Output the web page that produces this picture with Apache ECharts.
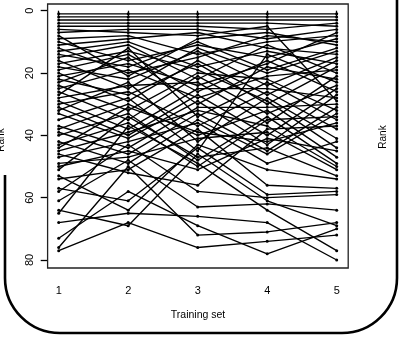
<!DOCTYPE html>
<html>
<head>
<meta charset="utf-8">
<script src="https://cdn.jsdelivr.net/npm/echarts/dist/echarts.min.js"></script>
<style>html,body{margin:0;padding:0;background:#fff;}#c{width:400px;height:338px;}</style>
</head>
<body>
<div id="c"></div>
<script>
// Training sets (x categories) and y tick labels
var trainingSets = [1, 2, 3, 4, 5];
var rankTicks = [0, 20, 40, 60, 80];
// Rank of each item in each training set (item i = index i in every array)
var set1 = [1,2,3,4,5,6,7,8,9,10,11,12,13,14,15,16,17,18,19,20,21,22,23,24,25,26,27,28,29,30,31,32,33,35,37,38,39,40,42,43,44,45,46,47,49,50,51,53,54,57,58,61,64,65,68,73,76,77];
var set2 = [1,2,3,4,5,7,6,21,8,16,9,20,10,18,11,25,13,22,14,29,17,27,15,32,19,35,12,24,38,26,40,23,41,28,44,30,46,33,49,36,31,39,52,42,47,45,34,64,51,61,43,48,69,37,65,58,50,68];
var set3 = [1,2,3,4,5,8,6,9,14,11,7,15,18,10,22,12,19,13,26,16,24,17,30,20,28,21,34,23,25,37,27,42,29,45,31,40,33,48,35,50,39,32,56,36,41,51,47,43,38,44,58,63,46,49,66,69,72,76];
var set4 = [1,2,3,4,6,5,9,7,10,15,12,8,13,19,11,20,29,24,16,27,17,30,18,22,21,33,23,36,25,26,40,28,43,14,31,32,45,34,46,35,42,37,38,49,39,41,44,51,56,59,60,62,61,64,68,78,71,74];
var set5 = [1,2,3,5,4,29,6,11,8,9,14,10,17,12,20,13,44,15,26,16,7,18,22,32,19,24,35,21,28,38,25,41,27,23,30,47,31,49,33,34,36,50,37,42,51,45,53,54,57,58,59,64,69,77,80,70,68,72];

var sets = [set1, set2, set3, set4, set5];
var series = [];
for (var i = 0; i < set1.length; i++) {
  var d = [];
  for (var k = 0; k < trainingSets.length; k++) d.push([trainingSets[k], sets[k][i]]);
  series.push({
    type: 'line', data: d, clip: false, silent: true,
    symbol: 'circle', symbolSize: 3,
    lineStyle: {color: '#000', width: 1.35},
    itemStyle: {color: '#000'},
    animation: false
  });
}
var FONT = '"Liberation Sans", Arial, Helvetica, sans-serif';
var chart = echarts.init(document.getElementById('c'), null, {renderer: 'canvas'});
chart.setOption({
  animation: false,
  backgroundColor: '#fff',
  grid: {left: 58.7, right: 63.3, top: 10.7, bottom: 78, containLabel: false},
  xAxis: {
    type: 'value', min: trainingSets[0], max: trainingSets[trainingSets.length - 1], interval: 1,
    offset: 8,
    axisLine: {show: false},
    axisTick: {show: true, length: 7, lineStyle: {color: '#000', width: 1.3}},
    axisLabel: {color: '#000', fontSize: 11, fontFamily: FONT, margin: 17},
    splitLine: {show: false}
  },
  yAxis: {
    type: 'value', inverse: true, min: rankTicks[0], max: rankTicks[rankTicks.length - 1], interval: 20,
    offset: 11,
    axisLine: {show: false},
    axisTick: {show: true, length: 7, lineStyle: {color: '#000', width: 1.3}},
    axisLabel: {color: '#000', fontSize: 11, fontFamily: FONT, rotate: 90, margin: 12},
    splitLine: {show: false}
  },
  series: series,
  graphic: [
    {type: 'rect', shape: {x: 47.6, y: 4, width: 300.6, height: 264}, style: {fill: 'none', stroke: '#222', lineWidth: 1.3}, z: 10},
    {type: 'text', x: 198, y: 315, style: {text: 'Training set', font: '10.5px ' + FONT, fill: '#000', textAlign: 'center', textVerticalAlign: 'middle'}},
    {type: 'text', x: 383, y: 137, rotation: Math.PI / 2, style: {text: 'Rank', font: '10px ' + FONT, fill: '#000', textAlign: 'center', textVerticalAlign: 'middle'}},
    {type: 'text', x: 1, y: 140, rotation: Math.PI / 2, style: {text: 'Rank', font: '10px ' + FONT, fill: '#000', textAlign: 'center', textVerticalAlign: 'middle'}},
    {type: 'line', shape: {x1: 5, y1: 175, x2: 5, y2: 278}, style: {stroke: '#000', lineWidth: 2.6}},
    {type: 'arc', shape: {cx: 60, cy: 278, r: 55, startAngle: Math.PI / 2, endAngle: Math.PI, clockwise: true}, style: {stroke: '#000', fill: 'none', lineWidth: 2.6}},
    {type: 'line', shape: {x1: 60, y1: 333, x2: 342, y2: 333}, style: {stroke: '#000', lineWidth: 2.6}},
    {type: 'arc', shape: {cx: 342, cy: 278, r: 55, startAngle: 0, endAngle: Math.PI / 2, clockwise: true}, style: {stroke: '#000', fill: 'none', lineWidth: 2.6}},
    {type: 'line', shape: {x1: 397, y1: 0, x2: 397, y2: 278}, style: {stroke: '#000', lineWidth: 2.6}}
  ]
});
</script>
</body>
</html>
